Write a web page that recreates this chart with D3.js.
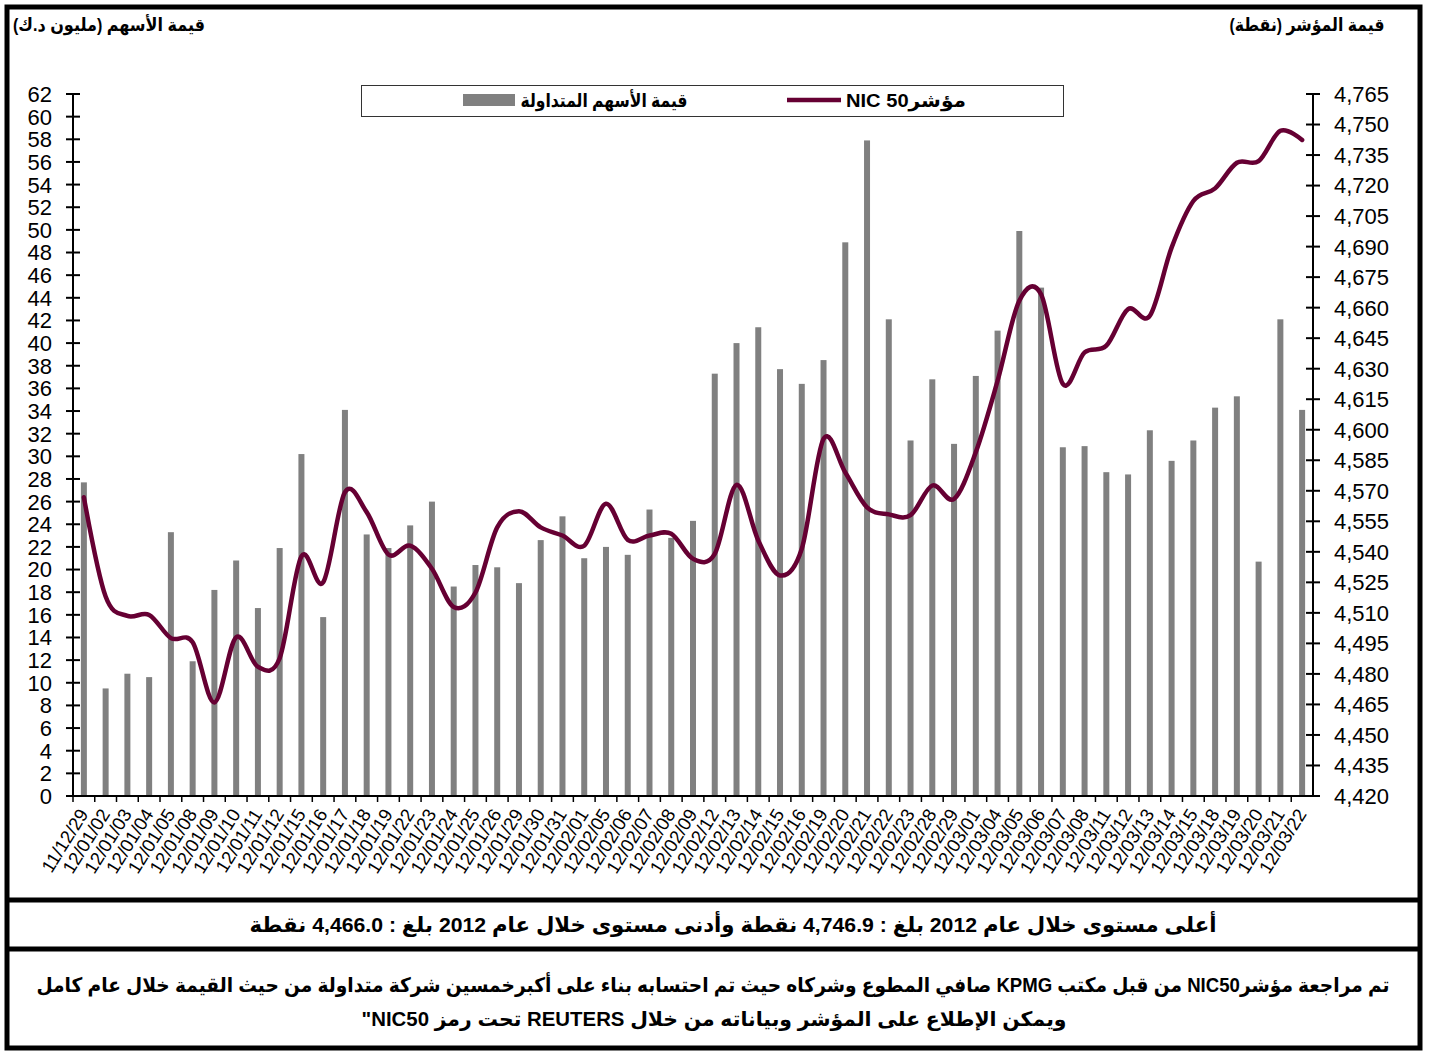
<!DOCTYPE html>
<meta charset="utf-8">
<head>
  <script src="https://d3js.org/d3.v7.min.js"></script>
  <style>
    body { margin: 0; background: #fff; }
    text { font-family: "Liberation Sans", Arial, "DejaVu Sans", sans-serif; }
    .ar { font-weight: bold; direction: rtl; }
  </style>
</head>
<body>
<svg id="chart" width="1430" height="1052"></svg>
<script>
// trading days
var dates = ["11/12/29","12/01/02","12/01/03","12/01/04","12/01/05","12/01/08","12/01/09","12/01/10","12/01/11","12/01/12",
  "12/01/15","12/01/16","12/01/17","12/01/18","12/01/19","12/01/22","12/01/23","12/01/24","12/01/25","12/01/26",
  "12/01/29","12/01/30","12/01/31","12/02/01","12/02/05","12/02/06","12/02/07","12/02/08","12/02/09","12/02/12",
  "12/02/13","12/02/14","12/02/15","12/02/16","12/02/19","12/02/20","12/02/21","12/02/22","12/02/23","12/02/28",
  "12/02/29","12/03/01","12/03/04","12/03/05","12/03/06","12/03/07","12/03/08","12/03/11","12/03/12","12/03/13",
  "12/03/14","12/03/15","12/03/18","12/03/19","12/03/20","12/03/21","12/03/22"];

// traded value (million KD)
var tradedValue = [27.7, 9.5, 10.8, 10.5, 23.3, 11.9, 18.2, 20.8, 16.6, 21.9,
  30.2, 15.8, 34.1, 23.1, 21.9, 23.9, 26.0, 18.5, 20.4, 20.2,
  18.8, 22.6, 24.7, 21.0, 22.0, 21.3, 25.3, 22.8, 24.3, 37.3,
  40.0, 41.4, 37.7, 36.4, 38.5, 48.9, 57.9, 42.1, 31.4, 36.8,
  31.1, 37.1, 41.1, 49.9, 44.9, 30.8, 30.9, 28.6, 28.4, 32.3,
  29.6, 31.4, 34.3, 35.3, 20.7, 42.1, 34.1];

// NIC 50 index (points)
var indexValue = [4566.8, 4518, 4508.5, 4509, 4497.6, 4495.6, 4466, 4498, 4483.5, 4487.7,
  4537.8, 4525, 4569.3, 4559.5, 4538.7, 4543, 4531.7, 4512.9, 4520, 4552,
  4560, 4552, 4548, 4543, 4563.6, 4545.9, 4548, 4548.9, 4536.6, 4539,
  4572.9, 4545.6, 4528.4, 4541.5, 4595.5, 4579, 4561.9, 4558.4, 4558, 4572.6,
  4566, 4589, 4624, 4663.4, 4666.6, 4622.5, 4638, 4641.3, 4659.3, 4656,
  4689.5, 4712.4, 4718.6, 4731.2, 4732, 4746.9, 4742.4];

var leftTicks = d3.range(0, 63, 2);
var rightTicks = d3.range(4420, 4766, 15);

var svg = d3.select("#chart");
var x0 = 73, x1 = 1313, yTop = 94, yBot = 796;

var x = d3.scaleBand().domain(dates).range([x0, x1]);
var yL = d3.scaleLinear().domain([0, 62]).range([yBot, yTop]);
var yR = d3.scaleLinear().domain([4420, 4765]).range([yBot, yTop]);

// frame
svg.append("rect").attr("x", 7).attr("y", 7).attr("width", 1413).attr("height", 1041)
  .attr("fill", "none").attr("stroke", "#000").attr("stroke-width", 5);
svg.append("line").attr("x1", 7).attr("x2", 1420).attr("y1", 900).attr("y2", 900)
  .attr("stroke", "#000").attr("stroke-width", 5);
svg.append("line").attr("x1", 7).attr("x2", 1420).attr("y1", 949).attr("y2", 949)
  .attr("stroke", "#000").attr("stroke-width", 5);

// bars
svg.append("g").selectAll("rect")
  .data(dates)
  .enter().append("rect")
    .attr("x", function(d) { return x(d) + x.bandwidth() / 2 - 3; })
    .attr("width", 6)
    .attr("y", function(d, i) { return yL(tradedValue[i]); })
    .attr("height", function(d, i) { return yBot - yL(tradedValue[i]); })
    .attr("fill", "#808080");

// index line
var line = d3.line()
  .x(function(d, i) { return x(dates[i]) + x.bandwidth() / 2; })
  .y(function(d) { return yR(d); })
  .curve(d3.curveCardinal.tension(0));

svg.append("path")
  .datum(indexValue)
  .attr("d", line)
  .attr("fill", "none")
  .attr("stroke", "#660033")
  .attr("stroke-width", 4.5)
  .attr("stroke-linejoin", "round")
  .attr("stroke-linecap", "round");

// left axis
var gl = svg.append("g");
gl.append("line").attr("x1", x0).attr("x2", x0).attr("y1", yTop).attr("y2", yBot)
  .attr("stroke", "#000").attr("stroke-width", 2);
gl.selectAll("line.t").data(leftTicks).enter().append("line")
  .attr("x1", x0 - 7).attr("x2", x0 + 7)
  .attr("y1", function(d) { return yL(d); }).attr("y2", function(d) { return yL(d); })
  .attr("stroke", "#000").attr("stroke-width", 2);
gl.selectAll("text").data(leftTicks).enter().append("text")
  .attr("x", 52).attr("y", function(d) { return yL(d); })
  .attr("dy", "0.36em").attr("text-anchor", "end")
  .style("font-size", "22px")
  .text(function(d) { return d; });

// right axis
var gr = svg.append("g");
gr.append("line").attr("x1", x1).attr("x2", x1).attr("y1", yTop).attr("y2", yBot)
  .attr("stroke", "#000").attr("stroke-width", 2);
gr.selectAll("line.t").data(rightTicks).enter().append("line")
  .attr("x1", x1 - 7).attr("x2", x1 + 7)
  .attr("y1", function(d) { return yR(d); }).attr("y2", function(d) { return yR(d); })
  .attr("stroke", "#000").attr("stroke-width", 2);
gr.selectAll("text").data(rightTicks).enter().append("text")
  .attr("x", 1334).attr("y", function(d) { return yR(d); })
  .attr("dy", "0.36em").attr("text-anchor", "start")
  .style("font-size", "22px")
  .text(function(d) { return d3.format(",")(d); });

// x axis
var gx = svg.append("g");
gx.append("line").attr("x1", x0).attr("x2", x1).attr("y1", yBot).attr("y2", yBot)
  .attr("stroke", "#000").attr("stroke-width", 2);
gx.selectAll("line.t").data(dates).enter().append("line")
  .attr("x1", function(d) { return x(d); }).attr("x2", function(d) { return x(d); })
  .attr("y1", yBot).attr("y2", yBot + 6)
  .attr("stroke", "#000").attr("stroke-width", 1.5);
gx.selectAll("text").data(dates).enter().append("text")
  .attr("transform", function(d) {
    return "translate(" + (x(d) + x.bandwidth() / 2 + 5) + "," + 814 + ") rotate(-58)";
  })
  .attr("text-anchor", "end")
  .style("font-size", "18.5px")
  .text(function(d) { return d; });

// Arabic labels, fitted to the widths seen in the original
function arText(cx, cy, size, width, str) {
  return svg.append("text").attr("class", "ar")
    .attr("x", cx).attr("y", cy).attr("text-anchor", "middle")
    .attr("textLength", width).attr("lengthAdjust", "spacingAndGlyphs")
    .style("font-size", size + "px")
    .text(str);
}

// axis titles
arText(109, 31, 18, 192, "قيمة الأسهم (مليون د.ك)");
arText(1307, 31, 18, 155, "قيمة المؤشر (نقطة)");

// legend
svg.append("rect").attr("x", 361.5).attr("y", 85.5).attr("width", 702).attr("height", 31)
  .attr("fill", "#fff").attr("stroke", "#333").attr("stroke-width", 1);
svg.append("rect").attr("x", 463).attr("y", 94).attr("width", 52).attr("height", 12).attr("fill", "#808080");
arText(604, 107, 19, 167, "قيمة الأسهم المتداولة");
svg.append("line").attr("x1", 787).attr("x2", 841).attr("y1", 100).attr("y2", 100)
  .attr("stroke", "#660033").attr("stroke-width", 4.5);
arText(906, 107, 19, 120, "مؤشرNIC 50");

// notes
arText(733, 932, 21, 967, "أعلى مستوى خلال عام 2012 بلغ :  4,746.9  نقطة وأدنى مستوى خلال عام 2012 بلغ :   4,466.0  نقطة");
arText(713, 992, 20, 1353, "تم مراجعة مؤشرNIC50 من قبل مكتب KPMG صافي المطوع وشركاه حيث تم احتسابه بناء على أكبرخمسين شركة متداولة من حيث القيمة خلال عام كامل");
arText(714, 1026, 20, 705, "ويمكن الإطلاع على المؤشر وبياناته من خلال REUTERS تحت رمز NIC50\"");
</script>
</body>
</html>
